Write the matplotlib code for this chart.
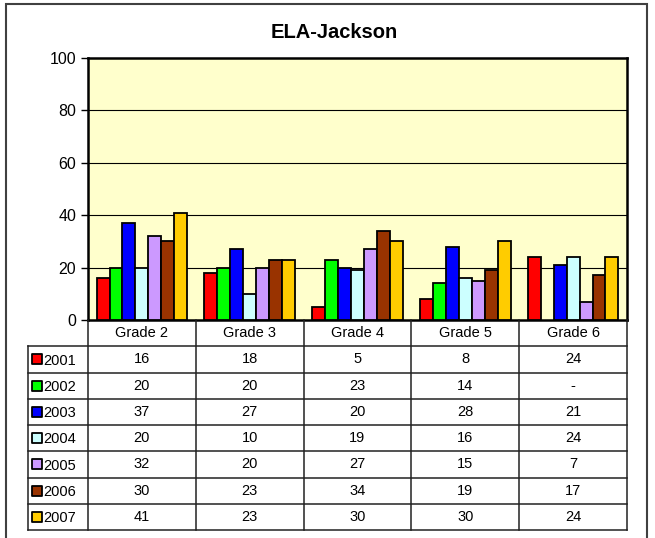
import numpy as np
import matplotlib
matplotlib.use("Agg")
import matplotlib.pyplot as plt
from matplotlib.patches import Rectangle

plt.rcParams['font.family'] = ['Liberation Sans', 'DejaVu Sans']

grades = ["Grade 2", "Grade 3", "Grade 4", "Grade 5", "Grade 6"]
years = ["2001", "2002", "2003", "2004", "2005", "2006", "2007"]
v2001 = [16, 18, 5, 8, 24]
v2002 = [20, 20, 23, 14, np.nan]
v2003 = [37, 27, 20, 28, 21]
v2004 = [20, 10, 19, 16, 24]
v2005 = [32, 20, 27, 15, 7]
v2006 = [30, 23, 34, 19, 17]
v2007 = [41, 23, 30, 30, 24]
series = [v2001, v2002, v2003, v2004, v2005, v2006, v2007]
colors = ["#FF0000", "#00FF00", "#0000FF", "#CCFFFF", "#CC99FF", "#993300", "#FFCC00"]

W, H = 655, 538
fig = plt.figure(figsize=(W / 100, H / 100), dpi=100)

# outer chart border
fig.patches.append(Rectangle((6 / W, -0.05), 641 / W, 1 - 4 / H + 0.05,
                             transform=fig.transFigure, fill=False,
                             edgecolor="#404040", lw=1.5))

fig.text(334 / W, 1 - 32 / H, "ELA-Jackson", ha="center", va="center",
         fontsize=14.5, fontweight="bold")

# plot area
px_l, px_r, px_t, px_b = 88, 627, 58, 320
ax = fig.add_axes([px_l / W, 1 - px_b / H, (px_r - px_l) / W, (px_b - px_t) / H])
ax.set_facecolor("#FFFFCC")
x = np.arange(len(grades))
bw = 0.12
for k, (vals, c) in enumerate(zip(series, colors)):
    ax.bar(x + (k - 3) * bw, vals, width=bw, color=c, edgecolor="black",
           linewidth=1.3, zorder=3)
ax.set_xlim(-0.5, 4.5)
ax.set_ylim(0, 100)
ax.set_yticks(range(0, 101, 20))
ax.tick_params(axis="y", labelsize=11.5, length=5, width=1, direction="out")
ax.set_xticks([])
for y in range(20, 100, 20):
    ax.axhline(y, color="black", lw=0.8, zorder=1)
for s in ax.spines.values():
    s.set_linewidth(1.8)

# data table
tl = 28
tax = fig.add_axes([tl / W, 1 - 530 / H, (px_r - tl) / W, (530 - px_b) / H])
unit = (px_r - px_l) / 5.0
xl = -0.5 - (px_l - tl) / unit
tax.set_xlim(xl, 4.5)
tax.set_ylim(8, 0)
tax.axis("off")
lc = "#222222"
for r in range(1, 9):
    tax.plot([xl, 4.5], [r, r], color=lc, lw=1.1, clip_on=False)
tax.plot([xl, xl], [1, 8], color=lc, lw=1.1, clip_on=False)
for xv in np.arange(-0.5, 4.6, 1.0):
    tax.plot([xv, xv], [0, 8], color=lc, lw=1.1, clip_on=False)

fs = 10.5
for i, g in enumerate(grades):
    tax.text(i, 0.5, g, ha="center", va="center", fontsize=fs)
for r, (yr, vals, c) in enumerate(zip(years, series, colors), start=1):
    tax.scatter([xl + 9 / unit], [r + 0.5], marker="s", s=42, color=c,
                edgecolors="black", linewidths=1.3, clip_on=False)
    tax.text(xl + 15 / unit, r + 0.55, yr, ha="left", va="center", fontsize=fs)
    for i, v in enumerate(vals):
        txt = "-" if np.isnan(v) else str(int(v))
        tax.text(i, r + 0.5, txt, ha="center", va="center", fontsize=fs)

fig.savefig("out.png", dpi=100)
